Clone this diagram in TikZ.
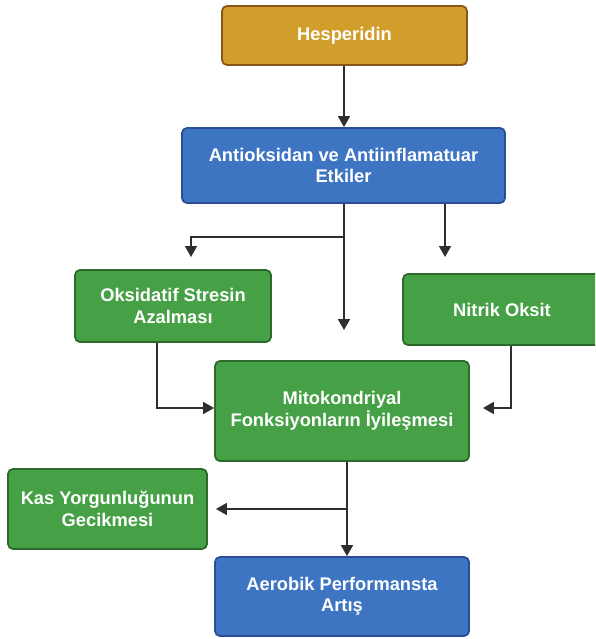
\documentclass[tikz,border=0pt]{standalone}
\usepackage{fontspec}
\setmainfont{Liberation Sans}
\usetikzlibrary{arrows.meta}

\definecolor{goldF}{HTML}{D19E2B}
\definecolor{goldD}{HTML}{8A5518}
\definecolor{blueF}{HTML}{3E75C3}
\definecolor{blueD}{HTML}{294E97}
\definecolor{greenF}{HTML}{46A046}
\definecolor{greenD}{HTML}{2C6A2C}
\definecolor{arrowC}{HTML}{2E2E2E}

\tikzset{
  box/.style={draw, line width=1.8pt, rounded corners=5pt, text=white,
    font=\bfseries\fontsize{18.3}{21.5}\selectfont, align=center, inner sep=0pt},
  goldbox/.style={box, fill=goldF, draw=goldD},
  bluebox/.style={box, fill=blueF, draw=blueD},
  greenbox/.style={box, fill=greenF, draw=greenD},
  arr/.style={draw=arrowC, line width=1.6pt, -{Triangle[length=11pt,width=12pt]}}
}

\begin{document}
\begin{tikzpicture}[x=1pt,y=-1pt]
  \useasboundingbox (0,0) rectangle (595,639);
  \clip (0,0) rectangle (595,639);

  % boxes
  \node[goldbox, minimum width=245pt, minimum height=59pt] (hes) at (344.5,35.5) {Hesperidin};
  \node[bluebox, minimum width=323pt, minimum height=75pt] (ant) at (343.5,165.5)
    {Antioksidan ve Antiinflamatuar\\Etkiler};
  \node[greenbox, minimum width=196pt, minimum height=72pt] (oks) at (173,306)
    {Oksidatif Stresin\\Azalması};
  \node[greenbox, minimum width=210pt, minimum height=71pt] (nit) at (508,309.5)
    {\hspace*{-12pt}Nitrik Oksit};
  \node[greenbox, minimum width=254pt, minimum height=100pt] (mito) at (342,411)
    {Mitokondriyal\\Fonksiyonların İyileşmesi};
  \node[greenbox, minimum width=199pt, minimum height=80pt] (kas) at (107.5,509)
    {Kas Yorgunluğunun\\Gecikmesi};
  \node[bluebox, minimum width=254pt, minimum height=79pt] (aer) at (342,596.5)
    {Aerobik Performansta\\Artış};

  % free arrow ends and junctions
  \coordinate (e1) at (344,330);
  \coordinate (e2) at (191,257);
  \coordinate (e3) at (445,257);
  \coordinate (j1) at (344,237);
  \coordinate (n1) at (511,0);

  % connectors
  \draw[arr] (hes.south -| e1) -- (ant.north -| e1);
  \draw[arr] (ant.south -| e1) -- (e1);
  \draw[arr] (j1) -| (e2);
  \draw[arr] (ant.south -| e3) -- (e3);
  \draw[arr] ([xshift=-16pt]oks.south) |- ([yshift=3pt]mito.west);
  \draw[arr] (nit.south -| n1) |- ([xshift=13pt,yshift=3pt]mito.east);
  \coordinate (m1) at ([xshift=5pt]mito.south);
  \draw[arr] (m1) -- (aer.north -| m1);
  \draw[arr] (m1 |- kas.east) -- ([xshift=8pt]kas.east);
\end{tikzpicture}
\end{document}
